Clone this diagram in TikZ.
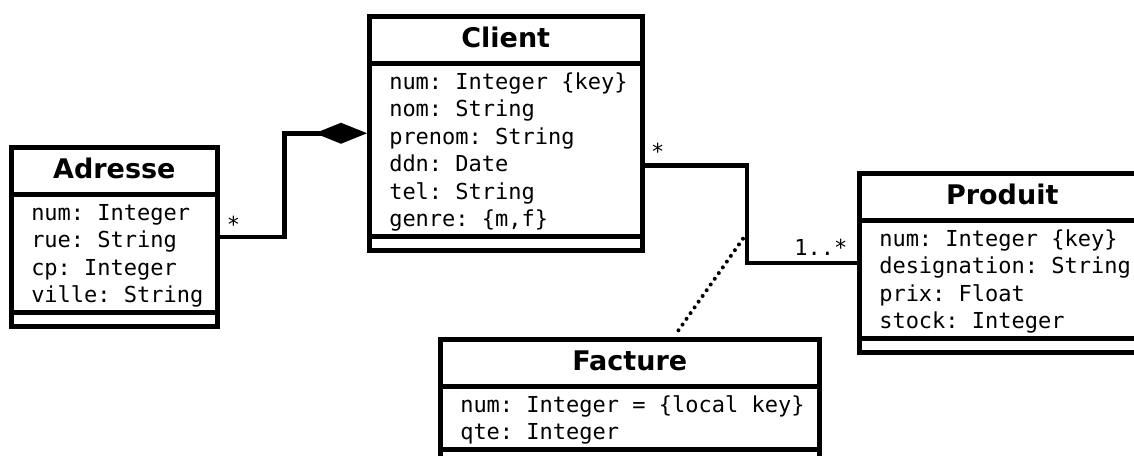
\documentclass[tikz,border=0pt]{standalone}
\usepackage{fontspec}
\setmainfont{DejaVu Sans}
\setmonofont{DejaVu Sans Mono}
\usepackage{tikz}
\usetikzlibrary{shapes.multipart}
\usetikzlibrary{calc}
\usetikzlibrary{arrows.meta}
\tikzset{>=latex}
\tikzset{
    umlclass/.style={
        draw, line width=4.5pt,
        rectangle split, rectangle split parts=3,
        rectangle split part align={center,left,left},
        align=left,
        inner xsep=14pt, inner ysep=1.9pt,
        anchor=north west,
        font=\fontsize{22pt}{27.4pt}\selectfont\ttfamily,
    },
    link/.style={line width=4.5pt},
    assocline/.style={line width=4pt, line cap=round, dash pattern=on 0pt off 7pt},
    mult/.style={font=\fontsize{22pt}{27.4pt}\selectfont\ttfamily, inner sep=0pt},
}
\newcommand{\classname}[1]{{\fontsize{27pt}{30pt}\selectfont\rmfamily\bfseries\rule[-11.6pt]{0pt}{39pt}#1}}
\newcommand{\attr}{\hspace*{6pt}\rule[-5.7pt]{0pt}{27.4pt}}
\newcommand{\noops}{\rule{0pt}{5.7pt}}

\begin{document}
\begin{tikzpicture}[x=1pt, y=-1pt]
                    \useasboundingbox (0,0) rectangle (1134,455);
                    \node[umlclass, minimum width=205pt] (adresse) at (9,145) {\classname{Adresse}
                        \nodepart{second}\attr num: Integer\\\attr rue: String\\\attr cp: Integer\\\attr ville: String
                        \nodepart{third}\noops};
                    \node[umlclass, minimum width=273pt] (client) at (367,14) {\classname{Client}
                        \nodepart{second}\attr num: Integer \{key\}\\\attr nom: String\\\attr prenom: String\\\attr ddn: Date\\\attr tel: String\\\attr genre: \{m,f\}
                        \nodepart{third}\noops};
                    \node[umlclass, minimum width=286pt] (produit) at (857,171) {\classname{Produit}
                        \nodepart{second}\attr num: Integer \{key\}\\\attr designation: String\\\attr prix: Float\\\attr stock: Integer
                        \nodepart{third}\noops};
                    \node[umlclass, minimum width=379pt] (facture) at (438,337) {\classname{Facture}
                        \nodepart{second}\attr num: Integer = \{local key\}\\\attr qte: Integer
                        \nodepart{third}\noops};

                    \draw[link, -{Diamond[length=52pt, width=21pt]}] (adresse.east) -- ++(65,0) |- (client.west);
                    \node[mult, anchor=base west] (adresse-mult) at ([shift={(7pt,4.5pt)}]adresse.east) {*};

                    \coordinate (cp) at ([yshift=-32pt]client.east);
                    \coordinate (assoc) at (747,233);
                    \draw[link] (cp) -| (assoc) |- (produit.west);
                    \node[mult, anchor=base west] (client-mult) at ([shift={(6.5pt,5.5pt)}]cp) {*};
                    \node[mult, anchor=base east] (produit-mult) at ([shift={(-9.5pt,7pt)}]produit.west) {1..*};
                    \draw[assocline] (assoc) -- ([xshift=47.5pt, yshift=5pt]facture.north);
\end{tikzpicture}
\end{document}
